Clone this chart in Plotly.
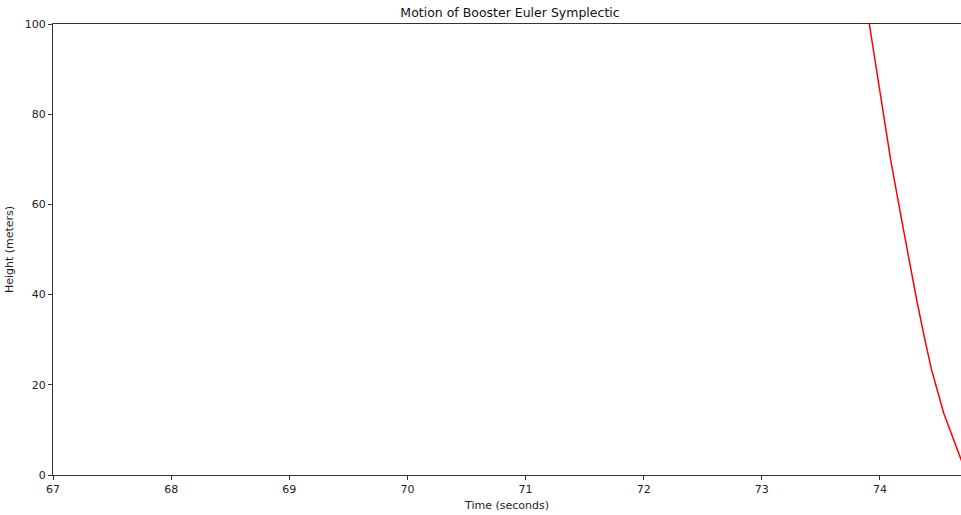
import plotly.graph_objects as go

# Data (time in seconds, height in meters)
time_s = [73.70, 73.80, 73.91, 74.00, 74.091, 74.184, 74.25, 74.311, 74.381, 74.437, 74.494, 74.54, 74.59, 74.686, 74.735]
height_m = [137.0, 118.0, 100.0, 85.0, 69.8, 56.5, 47.0, 38.8, 29.9, 23.3, 18.0, 13.7, 10.2, 3.3, 0.0]

x_ticks = [67, 68, 69, 70, 71, 72, 73, 74]
y_ticks = [0, 20, 40, 60, 80, 100]

font_family = "DejaVu Sans"

fig = go.Figure()
fig.add_trace(go.Scatter(x=time_s, y=height_m, mode="lines",
                         line=dict(color="#ff0000", width=1.5), showlegend=False))

axis_common = dict(showgrid=False, zeroline=False, showline=True, linecolor="#333333",
                   linewidth=1, ticks="outside", ticklen=4, tickwidth=1, tickcolor="#333333",
                   tickfont=dict(family=font_family, size=11, color="#222222"))

fig.update_layout(
    width=961, height=515,
    margin=dict(l=53, r=0, t=24, b=40),
    paper_bgcolor="white", plot_bgcolor="white",
    title=dict(text="Motion of Booster Euler Symplectic", x=0.5033, xref="paper",
               y=0.975, yref="container", xanchor="center", yanchor="middle",
               font=dict(family=font_family, size=12.5, color="#111111")),
    xaxis=dict(range=[67, 74.686], tickvals=x_ticks, mirror=True,
               title=dict(text="Time (seconds)", standoff=6,
                          font=dict(family=font_family, size=11, color="#222222")),
               **axis_common),
    yaxis=dict(range=[0, 100], tickvals=y_ticks,
               title=dict(text="Height (meters)", standoff=8,
                          font=dict(family=font_family, size=11, color="#222222")),
               **axis_common),
)

fig.write_html("out.html")
